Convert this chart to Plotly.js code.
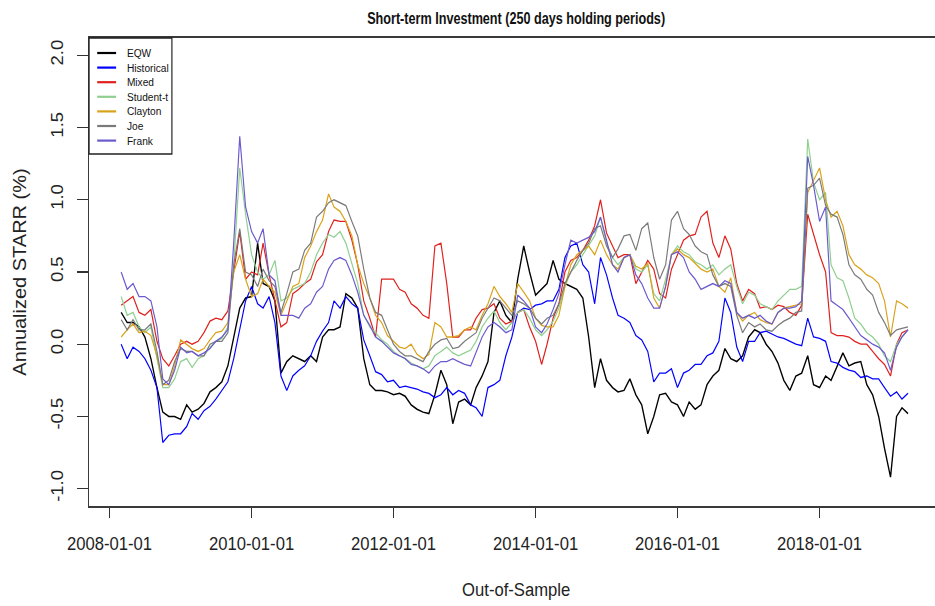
<!DOCTYPE html>
<html>
<head>
<meta charset="utf-8">
<script src="https://cdn.plot.ly/plotly-3.0.1.min.js"></script>
<style>
  html, body { margin: 0; padding: 0; overflow: hidden; background: #ffffff; width: 935px; height: 606px; }
  /* the figure is laid out wide and squeezed horizontally, like the narrow R device output */
  #chart { width: 1067px; height: 606px; transform: scaleX(0.9); transform-origin: 0 0; }
</style>
</head>
<body>
<div id="chart"></div>
<script>
// Monthly observation dates of the out-of-sample window
const months = [
  '2008-03','2008-04','2008-05','2008-06','2008-07','2008-08','2008-09','2008-10','2008-11','2008-12',
  '2009-01','2009-02','2009-03','2009-04','2009-05','2009-06','2009-07','2009-08','2009-09','2009-10','2009-11','2009-12',
  '2010-01','2010-02','2010-03','2010-04','2010-05','2010-06','2010-07','2010-08','2010-09','2010-10','2010-11','2010-12',
  '2011-01','2011-02','2011-03','2011-04','2011-05','2011-06','2011-07','2011-08','2011-09','2011-10','2011-11','2011-12',
  '2012-01','2012-02','2012-03','2012-04','2012-05','2012-06','2012-07','2012-08','2012-09','2012-10','2012-11','2012-12',
  '2013-01','2013-02','2013-03','2013-04','2013-05','2013-06','2013-07','2013-08','2013-09','2013-10','2013-11','2013-12',
  '2014-01','2014-02','2014-03','2014-04','2014-05','2014-06','2014-07','2014-08','2014-09','2014-10','2014-11','2014-12',
  '2015-01','2015-02','2015-03','2015-04','2015-05','2015-06','2015-07','2015-08','2015-09','2015-10','2015-11','2015-12',
  '2016-01','2016-02','2016-03','2016-04','2016-05','2016-06','2016-07','2016-08','2016-09','2016-10','2016-11','2016-12',
  '2017-01','2017-02','2017-03','2017-04','2017-05','2017-06','2017-07','2017-08','2017-09','2017-10','2017-11','2017-12',
  '2018-01','2018-02','2018-03','2018-04','2018-05','2018-06','2018-07','2018-08','2018-09','2018-10','2018-11','2018-12',
  '2019-01','2019-02','2019-03','2019-04'
];

// Annualized STARR (%) per portfolio strategy
const eqw = [
  0.22, 0.15, 0.15, 0.12, 0.05, -0.10, -0.30, -0.47, -0.50, -0.50,
  -0.52, -0.42, -0.47, -0.45, -0.41, -0.33, -0.30, -0.26, -0.15, 0.05, 0.25, 0.32,
  0.33, 0.70, 0.42, 0.40, 0.30, -0.20, -0.12, -0.08, -0.10, -0.12, -0.08, -0.12,
  0.05, 0.10, 0.10, 0.12, 0.35, 0.32, 0.25, -0.10, -0.28, -0.32, -0.32, -0.33,
  -0.35, -0.34, -0.36, -0.42, -0.45, -0.47, -0.48, -0.35, -0.18, -0.28, -0.55, -0.40,
  -0.38, -0.42, -0.30, -0.22, -0.12, 0.22, 0.30, 0.20, 0.15, 0.45, 0.68, 0.50,
  0.34, 0.38, 0.42, 0.58, 0.45, 0.42, 0.40, 0.38, 0.32, 0.05, -0.30, -0.10,
  -0.25, -0.30, -0.33, -0.32, -0.24, -0.35, -0.42, -0.62, -0.50, -0.35, -0.34, -0.40,
  -0.42, -0.50, -0.40, -0.45, -0.42, -0.28, -0.22, -0.18, -0.03, -0.10, -0.12, -0.08,
  0.05, 0.10, 0.08, 0.00, -0.05, -0.13, -0.25, -0.32, -0.22, -0.20, -0.08, -0.28,
  -0.30, -0.22, -0.25, -0.15, -0.06, -0.15, -0.13, -0.12, -0.28, -0.35, -0.50, -0.72,
  -0.92, -0.50, -0.44, -0.48
];
const historical = [
  0.00, -0.10, -0.02, -0.05, -0.10, -0.18, -0.30, -0.68, -0.63, -0.62,
  -0.62, -0.57, -0.48, -0.52, -0.46, -0.43, -0.38, -0.32, -0.26, -0.10, 0.10, 0.30,
  0.40, 0.28, 0.25, 0.33, 0.15, -0.22, -0.32, -0.22, -0.18, -0.15, -0.08, 0.02,
  0.09, 0.15, 0.30, 0.25, 0.33, 0.28, 0.25, 0.03, -0.08, -0.19, -0.21, -0.26,
  -0.25, -0.30, -0.29, -0.30, -0.31, -0.33, -0.34, -0.37, -0.35, -0.30, -0.35, -0.32,
  -0.34, -0.42, -0.44, -0.50, -0.30, -0.28, -0.25, -0.08, 0.05, 0.22, 0.25, 0.24,
  0.27, 0.28, 0.30, 0.30, 0.38, 0.60, 0.68, 0.70, 0.55, 0.50, 0.28, 0.60,
  0.48, 0.32, 0.20, 0.18, 0.15, 0.06, 0.03, -0.05, -0.26, -0.20, -0.20, -0.17,
  -0.30, -0.20, -0.18, -0.14, -0.14, -0.08, -0.06, 0.02, 0.32, 0.22, -0.02, -0.12,
  0.02, 0.02, 0.08, 0.09, 0.07, 0.05, 0.04, 0.02, 0.00, -0.01, 0.18, 0.05,
  0.04, 0.02, -0.12, -0.13, -0.16, -0.18, -0.19, -0.23, -0.22, -0.24, -0.24, -0.30,
  -0.36, -0.33, -0.38, -0.34
];
const mixed = [
  0.27, 0.30, 0.33, 0.22, 0.20, 0.24, 0.02, -0.10, -0.15, -0.08,
  0.00, 0.02, 0.00, 0.02, 0.08, 0.16, 0.18, 0.17, 0.23, 0.50, 0.78, 0.45,
  0.50, 0.48, 0.70, 0.48, 0.30, 0.12, 0.15, 0.35, 0.38, 0.42, 0.45, 0.57,
  0.62, 0.78, 0.86, 0.85, 0.85, 0.72, 0.55, 0.30, 0.18, 0.05, 0.45, 0.45,
  0.45, 0.38, 0.36, 0.28, 0.25, 0.20, 0.18, 0.68, 0.70, 0.42, 0.05, 0.05,
  0.10, 0.10, 0.18, 0.24, 0.25, 0.28, 0.18, 0.14, 0.16, 0.22, 0.24, 0.12,
  0.02, -0.14, 0.00, 0.18, 0.28, 0.50, 0.58, 0.60, 0.65, 0.72, 0.82, 1.00,
  0.77, 0.68, 0.60, 0.62, 0.62, 0.42, 0.50, 0.58, 0.52, 0.35, 0.32, 0.52,
  0.62, 0.72, 0.75, 0.76, 0.88, 0.92, 0.70, 0.60, 0.75, 0.66, 0.42, 0.30,
  0.38, 0.35, 0.25, 0.26, 0.24, 0.27, 0.26, 0.22, 0.20, 0.27, 0.90, 0.76,
  0.62, 0.50, 0.08, 0.06, 0.06, 0.05, 0.02, 0.00, 0.00, -0.05, -0.10, -0.14,
  -0.22, 0.00, 0.08, 0.10
];
const studentT = [
  0.33, 0.20, 0.22, 0.12, 0.08, 0.12, -0.10, -0.30, -0.30, -0.24,
  -0.12, -0.10, -0.16, -0.10, -0.08, -0.02, 0.02, 0.04, 0.12, 0.55, 1.22, 0.90,
  0.62, 0.50, 0.45, 0.48, 0.58, 0.30, 0.32, 0.38, 0.40, 0.42, 0.50, 0.62,
  0.70, 0.76, 0.74, 0.78, 0.70, 0.56, 0.42, 0.20, 0.12, 0.08, 0.03, 0.00,
  -0.05, -0.08, -0.10, -0.13, -0.15, -0.17, -0.15, -0.08, -0.05, -0.02, -0.06, -0.08,
  -0.06, -0.04, 0.02, 0.12, 0.18, 0.23, 0.15, 0.10, 0.15, 0.22, 0.24, 0.18,
  0.10, 0.06, 0.10, 0.16, 0.25, 0.40, 0.50, 0.55, 0.62, 0.68, 0.75, 0.88,
  0.70, 0.60, 0.55, 0.60, 0.62, 0.52, 0.50, 0.55, 0.35, 0.30, 0.45, 0.62,
  0.68, 0.64, 0.62, 0.57, 0.55, 0.52, 0.55, 0.48, 0.52, 0.55, 0.40, 0.28,
  0.36, 0.34, 0.28, 0.26, 0.24, 0.30, 0.34, 0.38, 0.38, 0.40, 1.42, 1.12,
  1.00, 1.05, 0.55, 0.46, 0.44, 0.32, 0.18, 0.14, 0.08, 0.05, 0.00, -0.08,
  -0.12, 0.00, 0.05, 0.10
];
const clayton = [
  0.05, 0.10, 0.14, 0.08, 0.09, 0.06, -0.08, -0.28, -0.28, -0.15,
  0.03, 0.00, -0.03, -0.05, -0.03, 0.03, 0.08, 0.09, 0.15, 0.50, 0.62, 0.45,
  0.33, 0.35, 0.45, 0.40, 0.36, 0.20, 0.30, 0.40, 0.42, 0.60, 0.68, 0.78,
  0.86, 1.04, 0.95, 0.92, 0.85, 0.75, 0.55, 0.42, 0.32, 0.20, 0.15, 0.06,
  0.02, -0.02, -0.03, 0.00, -0.07, -0.10, -0.07, 0.15, 0.12, 0.05, 0.05, 0.06,
  0.10, 0.12, 0.10, 0.20, 0.28, 0.40, 0.33, 0.28, 0.22, 0.42, 0.36, 0.30,
  0.18, 0.13, 0.12, 0.12, 0.20, 0.40, 0.55, 0.62, 0.65, 0.68, 0.62, 0.72,
  0.62, 0.55, 0.52, 0.60, 0.62, 0.54, 0.52, 0.56, 0.32, 0.25, 0.40, 0.62,
  0.66, 0.62, 0.60, 0.56, 0.52, 0.50, 0.52, 0.40, 0.36, 0.46, 0.22, 0.16,
  0.20, 0.22, 0.17, 0.15, 0.14, 0.22, 0.25, 0.26, 0.27, 0.28, 1.05, 1.13,
  1.22, 1.00, 0.88, 0.92, 0.82, 0.62, 0.55, 0.52, 0.48, 0.46, 0.42, 0.30,
  0.05, 0.30, 0.28, 0.25
];
const joe = [
  0.17, 0.10, 0.17, 0.10, 0.10, 0.14, -0.05, -0.28, -0.25, -0.12,
  -0.03, -0.05, -0.05, -0.08, -0.08, 0.00, 0.02, 0.02, 0.08, 0.55, 0.80, 0.50,
  0.48, 0.40, 0.52, 0.44, 0.40, 0.22, 0.35, 0.50, 0.52, 0.65, 0.70, 0.88,
  0.92, 0.98, 1.00, 0.98, 0.96, 0.85, 0.75, 0.52, 0.32, 0.22, 0.20, 0.10,
  0.00, -0.05, -0.08, -0.08, -0.10, -0.12, -0.05, 0.00, 0.03, 0.04, -0.03, -0.02,
  0.02, 0.05, 0.08, 0.18, 0.25, 0.32, 0.30, 0.25, 0.20, 0.30, 0.28, 0.25,
  0.18, 0.14, 0.18, 0.20, 0.28, 0.42, 0.50, 0.58, 0.65, 0.70, 0.80, 0.82,
  0.68, 0.60, 0.66, 0.75, 0.76, 0.65, 0.80, 0.84, 0.60, 0.45, 0.55, 0.86,
  0.92, 0.80, 0.76, 0.68, 0.64, 0.62, 0.48, 0.40, 0.42, 0.40, 0.20, 0.08,
  0.15, 0.12, 0.14, 0.10, 0.09, 0.13, 0.16, 0.18, 0.22, 0.23, 1.08, 1.10,
  1.15, 0.96, 0.90, 0.88, 0.76, 0.55, 0.48, 0.45, 0.38, 0.34, 0.22, 0.15,
  0.06, 0.10, 0.11, 0.12
];
const frank = [
  0.50, 0.38, 0.42, 0.33, 0.33, 0.30, 0.12, -0.24, -0.28, -0.18,
  -0.02, -0.06, -0.05, -0.08, -0.06, -0.03, 0.02, 0.05, 0.10, 0.70, 1.44, 0.95,
  0.78, 0.70, 0.80, 0.48, 0.44, 0.20, 0.20, 0.20, 0.18, 0.25, 0.28, 0.36,
  0.40, 0.52, 0.58, 0.60, 0.58, 0.48, 0.36, 0.20, 0.13, 0.05, 0.02, -0.02,
  -0.06, -0.08, -0.10, -0.14, -0.15, -0.17, -0.20, -0.15, -0.12, -0.12, -0.10, -0.12,
  -0.14, -0.15, -0.05, 0.05, 0.12, 0.15, 0.12, 0.08, 0.10, 0.34, 0.30, 0.25,
  0.12, 0.08, 0.14, 0.24, 0.35, 0.55, 0.72, 0.70, 0.72, 0.74, 0.78, 0.88,
  0.72, 0.55, 0.50, 0.60, 0.62, 0.48, 0.42, 0.32, 0.25, 0.25, 0.40, 0.62,
  0.64, 0.60, 0.50, 0.45, 0.38, 0.40, 0.42, 0.40, 0.44, 0.42, 0.22, 0.18,
  0.20, 0.18, 0.20, 0.16, 0.14, 0.22, 0.25, 0.25, 0.26, 0.30, 1.30, 1.10,
  0.85, 0.95, 0.30, 0.27, 0.24, 0.18, 0.12, 0.06, 0.03, 0.00, -0.02, -0.06,
  -0.18, -0.02, 0.05, 0.10
];

const seriesNames = ['EQW', 'Historical', 'Mixed', 'Student-t', 'Clayton', 'Joe', 'Frank'];
const seriesValues = [eqw, historical, mixed, studentT, clayton, joe, frank];
const seriesColors = ['#000000', '#0000ff', '#e0201c', '#8fcf8f', '#d9a21b', '#7a7a7a', '#6a5acd'];

const xTickDates = ['2008-01-01', '2010-01-01', '2012-01-01', '2014-01-01', '2016-01-01', '2018-01-01'];
const yTickVals = [-1.0, -0.5, 0.0, 0.5, 1.0, 1.5, 2.0];

// figure geometry (pre-squeeze pixels)
const W = 1067, H = 606;
const M = { l: 99, r: 19, t: 38, b: 100 };
const plotW = W - M.l - M.r, plotH = H - M.t - M.b;
const px2x = px => (px - M.l) / plotW;
const py2y = py => (H - M.b - py) / plotH;

const AXIS_FONT = 'Liberation Sans, Arial, Helvetica, sans-serif';
const TITLE_TEXT = 'Short-term Investment (250 days holding periods)';
const TITLE_WIDTH = 331;   // condensed width of the bold heading

const traces = seriesNames.map((name, i) => ({
  type: 'scatter',
  mode: 'lines',
  name: name,
  x: months,
  y: seriesValues[i],
  line: { color: seriesColors[i], width: i === 0 ? 1.5 : 1.3 },
  showlegend: false,
  hoverinfo: 'skip'
}));

// legend drawn as a compact boxed key in the top-left corner
const legendShapes = [{
  type: 'rect', xref: 'paper', yref: 'paper',
  x0: 0, x1: px2x(191), y0: py2y(154), y1: 1,
  line: { color: '#222222', width: 1.3 }, fillcolor: '#ffffff', layer: 'above'
}];
const legendAnnotations = [];
seriesNames.forEach((name, i) => {
  const rowY = 53 + 14.6 * i;
  legendShapes.push({
    type: 'line', xref: 'paper', yref: 'paper',
    x0: px2x(108), x1: px2x(129), y0: py2y(rowY), y1: py2y(rowY),
    line: { color: seriesColors[i], width: 2.2 }, layer: 'above'
  });
  legendAnnotations.push({
    xref: 'paper', yref: 'paper', x: px2x(139), y: py2y(rowY),
    xanchor: 'left', yanchor: 'middle', showarrow: false,
    text: name, font: { family: AXIS_FONT, size: 11.3, color: '#111111' }
  });
});

const layout = {
  width: W, height: H,
  margin: M,
  paper_bgcolor: '#ffffff', plot_bgcolor: '#ffffff',
  showlegend: false,
  title: {
    text: TITLE_TEXT,
    font: { family: AXIS_FONT, size: 17, weight: 'bold', color: '#111111' },
    xref: 'paper', x: 0.5, xanchor: 'center',
    yref: 'container', y: 1 - 18 / H, yanchor: 'middle'
  },
  xaxis: {
    type: 'date',
    range: ['2007-09-18', '2019-09-29'],
    tickmode: 'array', tickvals: xTickDates, ticktext: xTickDates,
    ticks: 'outside', ticklen: 10, tickwidth: 1.3, tickcolor: '#333333',
    ticklabelstandoff: 10,
    tickfont: { family: AXIS_FONT, size: 18.5, color: '#222222' },
    showline: true, mirror: true, linecolor: '#3a3a3a', linewidth: 1.6,
    showgrid: false, zeroline: false,
    title: { text: 'Out-of-Sample', font: { family: AXIS_FONT, size: 18.5, color: '#222222' }, standoff: 30 }
  },
  yaxis: {
    range: [-1.12, 2.12],
    tickmode: 'array', tickvals: yTickVals, ticktext: yTickVals.map(v => v.toFixed(1)),
    tickangle: -90,
    ticks: 'outside', ticklen: 11.5, tickwidth: 1.3, tickcolor: '#333333',
    ticklabelstandoff: 9,
    tickfont: { family: AXIS_FONT, size: 18.5, color: '#222222' },
    showline: true, mirror: true, linecolor: '#3a3a3a', linewidth: 1.6,
    showgrid: false, zeroline: false,
    title: { text: 'Annualized STARR (%)', font: { family: AXIS_FONT, size: 20, color: '#222222' }, standoff: 17 }
  },
  shapes: legendShapes,
  annotations: legendAnnotations
};

Plotly.newPlot('chart', traces, layout, { displayModeBar: false, staticPlot: true }).then(gd => {
  // narrow the bold heading to its condensed width
  const t = gd.querySelector('.gtitle');
  if (t) {
    t.setAttribute('textLength', TITLE_WIDTH);
    t.setAttribute('lengthAdjust', 'spacingAndGlyphs');
  }
});
</script>
</body>
</html>
